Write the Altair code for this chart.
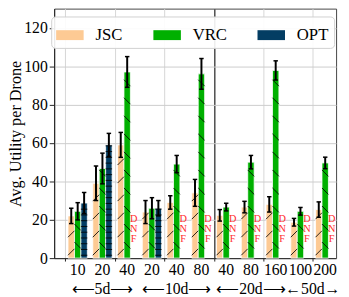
import altair as alt
import pandas as pd

# ---------------- data ----------------
tick_labels = ['10', '20', '40', '20', '40', '80', '40', '80', '160', '100', '200']
groups = ['5d', '10d', '20d', '50d']
group_texts = ['\u27f55d\u27f6', '\u27f510d\u27f6', '\u27f520d\u27f6', '\u219050d\u2192']
group_sizes = [3, 3, 3, 2]
series = ['JSC', 'VRC', 'OPT']
colors = ['#fdca94', '#00b000', '#033d63']

jsc_vals = [22, 39, 59, 24, 29, 34, 22.3, 26.6, 28, 18.7, 25.3]
jsc_err = [4, 9, 6.5, 6, 3.5, 7, 3, 3, 4, 2, 4]
vrc_vals = [24.4, 46.7, 97, 26, 49, 96, 26.6, 50, 97.8, 24.4, 49.6]
vrc_err = [4.5, 8, 8, 5.5, 4.5, 8, 2, 3.5, 5, 2, 3]
opt_vals = [28.7, 59, None, 26, None, None, None, None, None, None, None]
opt_err = [5.5, 6, None, 4, None, None, None, None, None, None, None]
dnf_level = 20.5

# ---------------- layout constants ----------------
BW = 0.26
offsets = {'JSC': -0.26, 'VRC': 0.0, 'OPT': 0.26}
W, H = 287, 254
YMAX = 130
px_per_unit_y = H / YMAX
px_per_unit_x = W / (10.44 + 0.95)

values = {'JSC': (jsc_vals, jsc_err), 'VRC': (vrc_vals, vrc_err), 'OPT': (opt_vals, opt_err)}

rows, dnf_rows, hatch_rows = [], [], []
for i in range(len(tick_labels)):
    for s in series:
        v, e = values[s][0][i], values[s][1][i]
        xc = i + offsets[s]
        if v is None:
            dnf_rows.append({'xc': xc, 'txt': 'D\nN\nF', 'y': dnf_level})
            continue
        xl, xr = xc - BW / 2, xc + BW / 2
        rows.append({'series': s, 'xl': xl, 'xr': xr, 'xc': xc, 'val': v, 'y0': 0,
                     'lo': v - e, 'hi': v + e, 'cl': xc - 0.09, 'cr': xc + 0.09})
        # hatch segments
        if s in ('JSC', 'VRC'):
            d = (BW * px_per_unit_x) / px_per_unit_y
            step = 9.4
            y = 1.5 if s == 'JSC' else 5.0
            while y + d <= v:
                if s == 'JSC':
                    hatch_rows.append({'x1': xl, 'x2': xr, 'y1': y, 'y2': y + d})
                else:
                    hatch_rows.append({'x1': xl, 'x2': xr, 'y1': y + d, 'y2': y})
                y += step
        else:
            y = 1.5
            while y <= v - 0.5:
                hatch_rows.append({'x1': xl, 'x2': xr, 'y1': y, 'y2': y})
                y += 3.0

bars_df = pd.DataFrame(rows)
dnf_df = pd.DataFrame(dnf_rows)
hatch_df = pd.DataFrame(hatch_rows)
ticks_df = pd.DataFrame({'pos': list(range(len(tick_labels))), 'lab': tick_labels})

centers, seps, start = [], [], 0
for g, n in zip(group_texts, group_sizes):
    centers.append({'g': g, 'xc': start + (n - 1) / 2})
    start += n
    if start < len(tick_labels):
        seps.append(start - 0.5)
groups_df = pd.DataFrame(centers)

# ---------------- scales & axes ----------------
xs = alt.Scale(domain=[-0.95, 10.44], nice=False, zero=False)
ys = alt.Scale(domain=[0, YMAX], nice=False)

x_vals = [k * 0.5 - 0.5 for k in range(22)]
sep_test = ' || '.join(f'datum.value === {s}' for s in seps)
x_axis = alt.Axis(
    values=x_vals, labels=False, title=None,
    gridColor={'condition': {'test': sep_test, 'value': '#555555'}, 'value': '#d6d6d6'},
    gridWidth={'condition': {'test': sep_test, 'value': 1.6}, 'value': 1},
    tickSize=3, domainColor='#222', tickColor='#222',
)
y_axis = alt.Axis(
    values=list(range(0, YMAX, 5)),
    labelExpr="datum.value % 20 === 0 ? datum.label : ''",
    title='Avg. Utility per Drone', labelOverlap=False,
    gridColor={'condition': {'test': 'datum.value % 20 === 0', 'value': '#cccccc'}, 'value': '#e6e6e6'},
    tickSize={'condition': {'test': 'datum.value % 20 === 0', 'value': 5}, 'value': 3},
    labelFont='Liberation Serif', labelFontSize=16, labelColor='black',
    titleFont='Liberation Serif', titleFontSize=16.5, titleFontWeight='normal',
    titleColor='black', titlePadding=0, domainColor='#222', tickColor='#222',
)

legend = alt.Legend(
    title=None, orient='none', legendX=-3, legendY=8, direction='horizontal',
    symbolType='M-1,-0.36L1,-0.36L1,0.36L-1,0.36Z', symbolSize=784,
    symbolStrokeWidth=0, symbolOpacity=1, labelFont='Liberation Serif',
    labelFontSize=17, labelColor='black', labelOffset=12, columnPadding=31,
    padding=5, fillColor='rgba(255,255,255,0.9)', strokeColor='#d0d0d0',
    cornerRadius=4,
)

bars = alt.Chart(bars_df).mark_rect(stroke='white', strokeWidth=0.8).encode(
    x=alt.X('xl:Q', scale=xs, axis=x_axis),
    x2='xr:Q',
    y=alt.Y('val:Q', scale=ys, axis=y_axis),
    y2='y0:Q',
    color=alt.Color('series:N', scale=alt.Scale(domain=series, range=colors),
                    sort=series, legend=legend),
)

hatch = alt.Chart(hatch_df).mark_rule(color='black', strokeWidth=1, opacity=0.85).encode(
    x=alt.X('x1:Q', scale=xs), x2='x2:Q',
    y=alt.Y('y1:Q', scale=ys), y2='y2:Q',
)

err = alt.Chart(bars_df).mark_rule(color='black', strokeWidth=2).encode(
    x=alt.X('xc:Q', scale=xs), y=alt.Y('lo:Q', scale=ys), y2='hi:Q',
)
cap_hi = alt.Chart(bars_df).mark_rule(color='black', strokeWidth=1.5).encode(
    x=alt.X('cl:Q', scale=xs), x2='cr:Q', y=alt.Y('hi:Q', scale=ys),
)
cap_lo = alt.Chart(bars_df).mark_rule(color='black', strokeWidth=1.5).encode(
    x=alt.X('cl:Q', scale=xs), x2='cr:Q', y=alt.Y('lo:Q', scale=ys),
)

dnf = alt.Chart(dnf_df).mark_text(
    lineBreak='\n', font='Liberation Serif', fontSize=10.5, lineHeight=10.5,
    color='#ff2b2b', baseline='middle', align='center',
).encode(x=alt.X('xc:Q', scale=xs), y=alt.Y('y:Q', scale=ys), text='txt:N')

tlabels = alt.Chart(ticks_df).mark_text(
    font='Liberation Serif', fontSize=16, baseline='middle', align='center', color='black',
).encode(x=alt.X('pos:Q', scale=xs), y=alt.value(H + 12), text='lab:N')

glabels = alt.Chart(groups_df).mark_text(
    font='Liberation Serif', fontSize=16, baseline='middle', align='center', color='black',
).encode(x=alt.X('xc:Q', scale=xs), y=alt.value(H + 32), text='g:N')

chart = alt.layer(bars, hatch, err, cap_hi, cap_lo, dnf, tlabels, glabels).properties(
    width=W, height=H,
    autosize=alt.AutoSizeParams(type='none'),
    padding={'left': 47, 'top': -2, 'right': 5, 'bottom': 40},
).configure_view(stroke='#444444', strokeWidth=1)

chart.save('out.html', embed_options={'renderer': 'svg', 'actions': False})
